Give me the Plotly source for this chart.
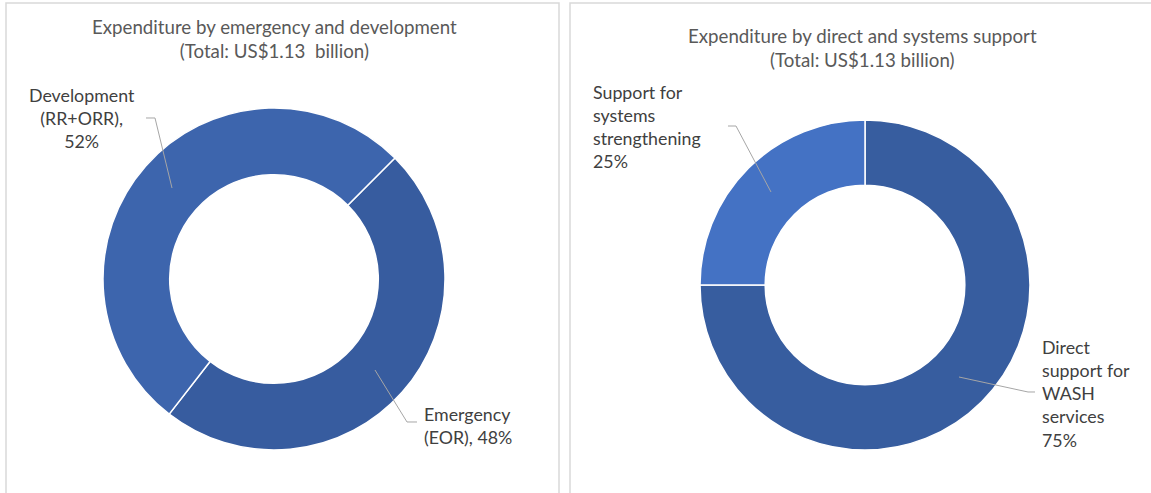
import plotly.graph_objects as go

W, H = 1151, 493

# Data
left_labels = ["Emergency (EOR)", "Development (RR+ORR)"]
left_values = [48, 52]
right_labels = ["Direct support for WASH services", "Support for systems strengthening"]
right_values = [75, 25]

left_title = "Expenditure by emergency and development<br>(Total: US$1.13  billion)"
right_title = "Expenditure by direct and systems support<br>(Total: US$1.13 billion)"

left_colors = ["#375C9F", "#3D65AD"]
right_colors = ["#375D9F", "#4472C4"]


def px(x):
    return x / W


def py(y):
    return 1 - y / H


fig = go.Figure()

fig.add_trace(go.Pie(
    labels=left_labels, values=left_values, hole=0.61, sort=False,
    direction="clockwise", rotation=45, textinfo="none",
    marker=dict(colors=left_colors, line=dict(color="white", width=1.5)),
    domain=dict(x=[px(103), px(445)], y=[py(450), py(108)]),
    showlegend=False, hoverinfo="label+percent",
))
fig.add_trace(go.Pie(
    labels=right_labels, values=right_values, hole=0.605, sort=False,
    direction="clockwise", rotation=0, textinfo="none",
    marker=dict(colors=right_colors, line=dict(color="white", width=1.5)),
    domain=dict(x=[px(700), px(1030)], y=[py(450), py(120)]),
    showlegend=False, hoverinfo="label+percent",
))

FONT = "Lato"
title_font = dict(family=FONT, size=18.7, color="#595959")
lab_font = dict(family=FONT, size=17.8, color="#404040")

ann = []
ann.append(dict(text=left_title, x=px(274), y=py(39), xanchor="center", yanchor="middle",
                showarrow=False, font=title_font, align="center"))
ann.append(dict(text=right_title, x=px(862), y=py(48), xanchor="center", yanchor="middle",
                showarrow=False, font=title_font, align="center"))

# Data labels
ann.append(dict(text="Development<br>(RR+ORR),<br>52%", x=px(82), y=py(118), xanchor="center",
                yanchor="middle", showarrow=False, font=lab_font, align="center"))
ann.append(dict(text="Emergency<br>(EOR), 48%", x=px(422), y=py(425), xanchor="left",
                yanchor="middle", showarrow=False, font=lab_font, align="left"))
ann.append(dict(text="Support for<br>systems<br>strengthening<br>25%", x=px(591), y=py(126.5), xanchor="left",
                yanchor="middle", showarrow=False, font=lab_font, align="left"))
ann.append(dict(text="Direct<br>support for<br>WASH<br>services<br>75%", x=px(1040), y=py(393), xanchor="left",
                yanchor="middle", showarrow=False, font=lab_font, align="left"))

shapes = []
# Panel borders
border = dict(color="#D9D9D9", width=1.5)
shapes.append(dict(type="rect", xref="paper", yref="paper", x0=px(6), x1=px(559), y0=-0.05, y1=py(3),
                   line=border, fillcolor="rgba(0,0,0,0)"))
shapes.append(dict(type="rect", xref="paper", yref="paper", x0=px(570), x1=1.05, y0=-0.05, y1=py(3),
                   line=border, fillcolor="rgba(0,0,0,0)"))

# Leader lines
lead = dict(color="#A6A6A6", width=1)


def path(pts):
    return "M " + " L ".join(f"{px(x):.5f},{py(y):.5f}" for x, y in pts)


for pts in [
    [(146, 118), (155, 118), (172, 188)],
    [(728, 126), (736, 126), (771, 192)],
    [(375, 370), (407, 422), (417, 422)],
    [(959, 377), (1028, 392), (1035, 392)],
]:
    shapes.append(dict(type="path", xref="paper", yref="paper", path=path(pts), line=lead))

fig.update_layout(
    width=W, height=H,
    margin=dict(l=0, r=0, t=0, b=0),
    paper_bgcolor="white", plot_bgcolor="white",
    annotations=ann, shapes=shapes,
)

fig.write_html(
    "out.html",
    config={"displayModeBar": False},
    post_script="document.body.style.margin='0';document.body.style.overflow='hidden';",
)
